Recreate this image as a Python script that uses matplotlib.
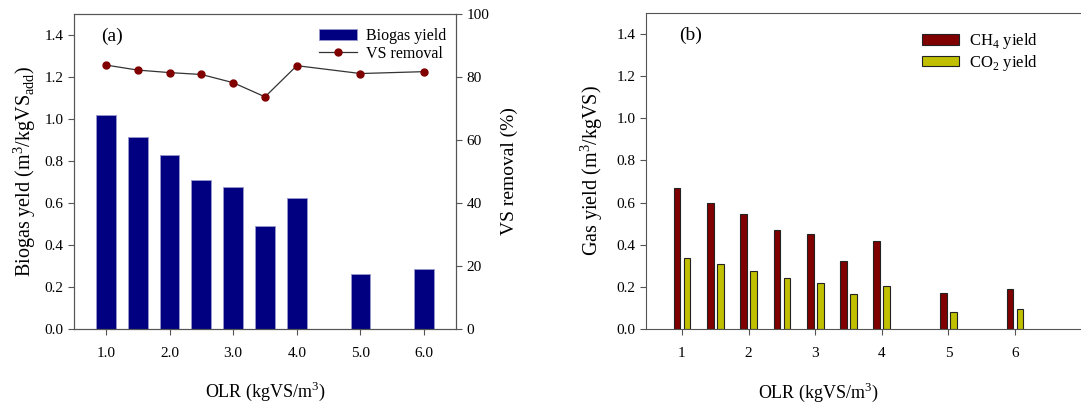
import matplotlib
matplotlib.use("Agg")
import matplotlib.pyplot as plt
import numpy as np

plt.rcParams['font.family'] = ['Liberation Serif', 'DejaVu Serif']
plt.rcParams['mathtext.fontset'] = 'custom'
plt.rcParams['mathtext.rm'] = 'Liberation Serif'

# Data
olr = [1.0, 1.5, 2.0, 2.5, 3.0, 3.5, 4.0, 5.0, 6.0]
biogas_yield = [1.02, 0.915, 0.83, 0.71, 0.675, 0.49, 0.625, 0.26, 0.285]
vs_removal = [83.8, 82.2, 81.4, 80.8, 78.2, 73.7, 83.6, 81.1, 81.7]
ch4_yield = [0.67, 0.60, 0.545, 0.47, 0.45, 0.325, 0.42, 0.17, 0.19]
co2_yield = [0.335, 0.31, 0.275, 0.24, 0.22, 0.165, 0.205, 0.08, 0.095]
a_xticks = [1.0, 2.0, 3.0, 4.0, 5.0, 6.0]
b_xticks = [1, 2, 3, 4, 5, 6]
left_yticks = [0.0, 0.2, 0.4, 0.6, 0.8, 1.0, 1.2, 1.4]
right_yticks = [0, 20, 40, 60, 80, 100]

spine_c = '#555555'
fig = plt.figure(figsize=(10.81, 4.07), dpi=100)

# Panel (a)
ax1 = fig.add_axes([0.0685, 0.1916, 0.3533, 0.774])
ax1.bar(olr, biogas_yield, width=0.31, color='#000080', edgecolor='#9999cc', linewidth=0.6,
        label='Biogas yield', zorder=2)
ax1.set_xlim(0.5, 6.5)
ax1.set_ylim(0, 1.5)
ax1.set_yticks(left_yticks)
ax1.set_yticklabels([f'{v:.1f}' for v in left_yticks])
ax1.set_xticks(a_xticks)
ax1.set_xticklabels([f'{v:.1f}' for v in a_xticks])
ax1.tick_params(axis='both', direction='out', length=4, labelsize=11, color=spine_c)
ax1.tick_params(axis='x', pad=9)
ax1.set_xlabel('OLR (kgVS/m$^3$)', fontsize=13, labelpad=14)
ax1.set_ylabel('Biogas yeld (m$^3$/kgVS$_{\\mathrm{add}}$)', fontsize=14.5, labelpad=5)
for s in ax1.spines.values():
    s.set_color(spine_c)
ax1.text(0.07, 0.93, '(a)', transform=ax1.transAxes, fontsize=14, va='center')

ax2 = ax1.twinx()
ax2.plot(olr, vs_removal, color='#333333', linewidth=0.9, marker='o', markersize=5,
         markerfacecolor='#800000', markeredgecolor='#800000', label='VS removal', zorder=3)
ax2.set_ylim(0, 100)
ax2.set_yticks(right_yticks)
ax2.tick_params(axis='y', direction='out', length=4, labelsize=11, color=spine_c)
ax2.set_ylabel('VS removal (%)', fontsize=14, labelpad=8)
for s in ax2.spines.values():
    s.set_color(spine_c)

h1, l1 = ax1.get_legend_handles_labels()
h2, l2 = ax2.get_legend_handles_labels()
ax2.legend(h1 + h2, l1 + l2, loc='upper right', frameon=False, fontsize=11.5,
           bbox_to_anchor=(1.005, 0.99), handlelength=2.4, borderaxespad=0.3,
           labelspacing=0.1, handletextpad=0.6)

# Panel (b)
ax3 = fig.add_axes([0.5976, 0.1916, 0.4030, 0.7764])
x = np.array(olr)
ax3.bar(x - 0.075, ch4_yield, width=0.1, color='#800000', edgecolor='#222222', linewidth=0.8,
        label='CH$_4$ yield', zorder=2)
ax3.bar(x + 0.075, co2_yield, width=0.1, color='#c0c000', edgecolor='#222222', linewidth=0.8,
        label='CO$_2$ yield', zorder=2)
ax3.set_xlim(0.46, 7.0)
ax3.set_ylim(0, 1.5)
ax3.set_yticks(left_yticks)
ax3.set_yticklabels([f'{v:.1f}' for v in left_yticks])
ax3.set_xticks(b_xticks)
ax3.tick_params(axis='both', direction='out', length=4, labelsize=11, color=spine_c)
ax3.tick_params(axis='x', pad=9)
ax3.set_ylabel('Gas yield (m$^3$/kgVS)', fontsize=14.5, labelpad=8)
ax3.set_xlabel('OLR (kgVS/m$^3$)', fontsize=13)
ax3.xaxis.set_label_coords(0.395, -0.165)
for s in ax3.spines.values():
    s.set_color(spine_c)
ax3.text(0.075, 0.93, '(b)', transform=ax3.transAxes, fontsize=14, va='center')
ax3.legend(loc='upper left', bbox_to_anchor=(0.60, 0.99), frameon=False, fontsize=12,
           handlelength=2.2, handleheight=0.6, labelspacing=0.1, handletextpad=0.6)

fig.savefig('out.png', dpi=100)
